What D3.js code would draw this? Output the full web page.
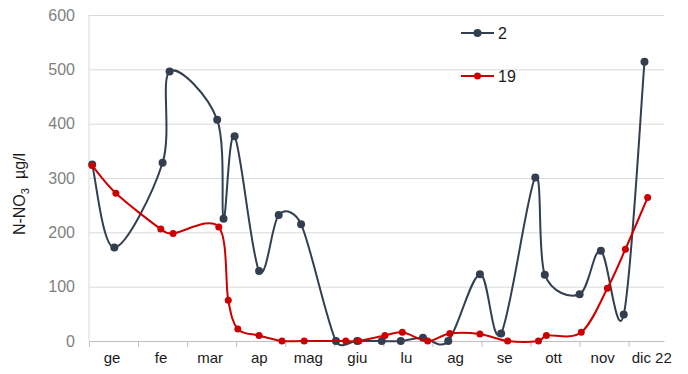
<!DOCTYPE html>
<html>
<head>
<meta charset="utf-8">
<script src="https://cdn.jsdelivr.net/npm/d3@7"></script>
<style>
  html, body { margin: 0; padding: 0; background: #ffffff; }
  svg { display: block; font-family: "Liberation Sans", Arial, sans-serif; }
</style>
</head>
<body>
<svg id="chart" width="688" height="374"></svg>
<script>
// ---- data ----
const monthLabels = ["ge", "fe", "mar", "ap", "mag", "giu", "lu", "ag", "se", "ott", "nov", "dic 22"];
const yTickValues = [0, 100, 200, 300, 400, 500, 600];
const seriesNames = ["2", "19"];

const dates2 = ["2022-01-03", "2022-01-17", "2022-02-15", "2022-02-19", "2022-03-20", "2022-03-24",
  "2022-03-31", "2022-04-15", "2022-04-27", "2022-05-11", "2022-06-02", "2022-06-15",
  "2022-06-30", "2022-07-12", "2022-07-26", "2022-08-11", "2022-08-31", "2022-09-13",
  "2022-10-04", "2022-10-10", "2022-11-01", "2022-11-14", "2022-11-28", "2022-12-11"];
const values2 = [325, 172, 328, 496, 407, 225, 377, 129, 232, 215, 0, 0,
  0, 0, 6, 0, 123, 14, 301, 122, 86, 166, 49, 514];

const dates19 = ["2022-01-03", "2022-01-18", "2022-02-14", "2022-02-21", "2022-03-21", "2022-03-27",
  "2022-04-02", "2022-04-15", "2022-04-29", "2022-05-13", "2022-06-08", "2022-06-16",
  "2022-07-02", "2022-07-13", "2022-07-29", "2022-08-12", "2022-08-31", "2022-09-17",
  "2022-10-06", "2022-10-11", "2022-11-02", "2022-11-18", "2022-11-29", "2022-12-13"];
const values19 = [323, 272, 206, 198, 210, 75, 22, 10, 0, 0, 0, 0,
  10, 16, 0, 14, 13, 0, 0, 10, 16, 97, 169, 264];

const colors = ["#333f50", "#cc0000"];

// ---- helpers ----
const parse = d3.timeParse("%Y-%m-%d");
function monthPos(s) {
  const d = parse(s);
  const m = d.getMonth();
  const dim = new Date(d.getFullYear(), m + 1, 0).getDate();
  return m + (d.getDate() - 1) / dim;
}

// spreadsheet-style smoothing: Catmull-Rom handles (1/6) clamped to half the segment length
class SmoothCurve {
  constructor(context) { this._context = context; }
  areaStart() {}
  areaEnd() {}
  lineStart() { this._pts = []; }
  point(px, py) { this._pts.push([+px, +py]); }
  lineEnd() {
    const p = this._pts, n = p.length, c = this._context;
    if (!n) return;
    const dist = (a, b) => Math.hypot(b[0] - a[0], b[1] - a[1]);
    const handle = i => {
      const prev = p[i - 1] || p[i], next = p[i + 1] || p[i];
      return [(next[0] - prev[0]) / 6, (next[1] - prev[1]) / 6];
    };
    const clamp = (h, maxLen) => {
      const L = Math.hypot(h[0], h[1]);
      if (L > maxLen && L > 0) { const k = maxLen / L; return [h[0] * k, h[1] * k]; }
      return h;
    };
    c.moveTo(p[0][0], p[0][1]);
    for (let i = 0; i < n - 1; i++) {
      const half = dist(p[i], p[i + 1]) / 2;
      const h1 = clamp(handle(i), half), h2 = clamp(handle(i + 1), half);
      c.bezierCurveTo(p[i][0] + h1[0], p[i][1] + h1[1],
                      p[i + 1][0] - h2[0], p[i + 1][1] - h2[1],
                      p[i + 1][0], p[i + 1][1]);
    }
  }
}
const curveSmooth = ctx => new SmoothCurve(ctx);

const svg = d3.select("#chart");
const pL = 89, pR = 664, pT = 15, pB = 341;

const x = d3.scaleLinear().domain([0, 11.72]).range([pL, pR]);
const y = d3.scaleLinear().domain([0, 600]).range([pB, pT]);

// gridlines
svg.append("g")
  .attr("transform", `translate(${pL},0)`)
  .call(d3.axisLeft(y).tickValues(yTickValues.filter(v => v > 0)).tickSize(-(pR - pL)).tickFormat(""))
  .call(g => g.select(".domain").remove())
  .call(g => g.selectAll("line").attr("stroke", "#d9d9d9").attr("stroke-width", 1));

// left vertical axis line
svg.append("line")
  .attr("x1", pL).attr("x2", pL).attr("y1", pT).attr("y2", pB)
  .attr("stroke", "#d9d9d9").attr("stroke-width", 1);

// y tick labels
svg.append("g")
  .selectAll("text")
  .data(yTickValues)
  .join("text")
  .attr("x", 75)
  .attr("y", d => y(d))
  .attr("dy", "0.35em")
  .attr("text-anchor", "end")
  .attr("font-size", 16)
  .attr("fill", "#7f7f7f")
  .text(d => d);

// x axis with month ticks
svg.append("g")
  .attr("transform", `translate(0,${pB})`)
  .call(d3.axisBottom(x).tickValues(d3.range(0, 12)).tickSizeInner(6).tickSizeOuter(0).tickFormat(""))
  .call(g => g.select(".domain").attr("stroke", "#bfbfbf"))
  .call(g => g.selectAll(".tick line").attr("stroke", "#bfbfbf"));

// month labels
svg.append("g")
  .selectAll("text")
  .data(monthLabels)
  .join("text")
  .attr("x", (d, i) => x(i + 0.47))
  .attr("y", 363)
  .attr("text-anchor", "middle")
  .attr("font-size", 15)
  .attr("fill", "#1a1a1a")
  .text(d => d);

// y axis title
const yt = svg.append("text")
  .attr("transform", "translate(25,194) rotate(-90)")
  .attr("text-anchor", "middle")
  .attr("font-size", 16)
  .attr("fill", "#1a1a1a");
yt.append("tspan").text("N-NO");
yt.append("tspan").attr("font-size", 11).attr("dy", 4).text("3");
yt.append("tspan").attr("dy", -4).attr("dx", 9).text("µg/l");

// series
const series = [
  { name: seriesNames[0], color: colors[0], r: 4, pts: dates2.map((d, i) => [monthPos(d), values2[i]]) },
  { name: seriesNames[1], color: colors[1], r: 3.5, pts: dates19.map((d, i) => [monthPos(d), values19[i]]) }
];

const line = d3.line()
  .x(d => x(d[0]))
  .y(d => y(d[1]))
  .curve(curveSmooth);

series.forEach(s => {
  const g = svg.append("g");
  g.append("path")
    .attr("d", line(s.pts))
    .attr("fill", "none")
    .attr("stroke", s.color)
    .attr("stroke-width", 2);
  g.selectAll("circle")
    .data(s.pts)
    .join("circle")
    .attr("cx", d => x(d[0]))
    .attr("cy", d => y(d[1]))
    .attr("r", s.r)
    .attr("fill", s.color);
});

// legend
const legendY = [33, 76];
series.forEach((s, i) => {
  const g = svg.append("g").attr("transform", `translate(461,${legendY[i]})`);
  g.append("line").attr("x1", 0).attr("x2", 33).attr("y1", 0).attr("y2", 0)
    .attr("stroke", s.color).attr("stroke-width", 2);
  g.append("circle").attr("cx", 16.5).attr("cy", 0).attr("r", s.r).attr("fill", s.color);
  g.append("text").attr("x", 37).attr("y", 0).attr("dy", "0.36em")
    .attr("font-size", 16).attr("fill", "#1a1a1a").text(s.name);
});
</script>
</body>
</html>
